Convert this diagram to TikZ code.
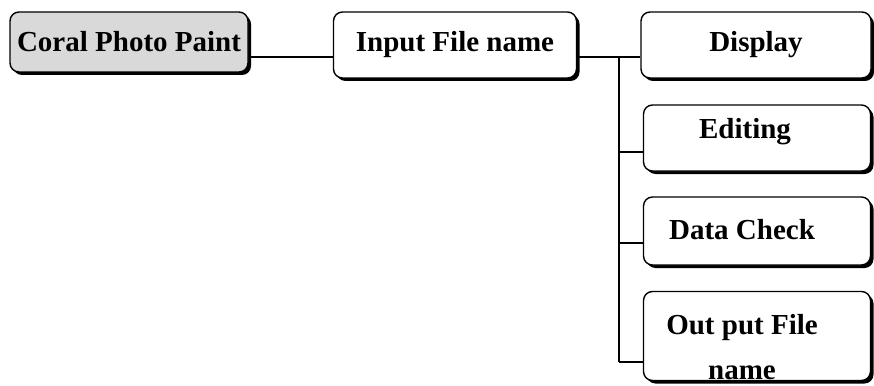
\documentclass[tikz,border=0pt]{standalone}
\usepackage{fontspec}
\setmainfont{Liberation Serif}
\usetikzlibrary{shadows,patterns}
\tikzset{
  box/.style={draw, line width=1.4pt, rounded corners=9pt, fill=white, inner sep=0pt,
    drop shadow={shadow xshift=3pt, shadow yshift=-3pt, opacity=1, fill=black},
    font=\fontsize{29}{35}\selectfont\bfseries},
  lbl/.style={inner sep=0pt, font=\fontsize{29}{35}\selectfont\bfseries},
  conn/.style={line width=1.3pt},
  trunk/.style={line width=2pt}
}
\begin{document}
\begin{tikzpicture}[x=1pt,y=1pt]
\useasboundingbox (0,0) rectangle (874,-385);
\node[box, fill=gray!30, minimum width=238pt, minimum height=60pt] (coral) at (129,-42) {Coral Photo Paint};
\node[box, minimum width=243pt, minimum height=66pt] (input) at (455,-45) {Input File name};
\node[box, minimum width=230pt, minimum height=66pt] (disp) at (756,-45) {Display};
\node[box, minimum width=227pt, minimum height=66pt] (edit) at (757,-138) {};
\node[lbl] (edittxt) at (745,-132) {Editing};
\node[box, minimum width=227pt, minimum height=68pt] (data) at (757,-231) {};
\node[lbl] (datatxt) at (742,-230) {Data Check};
\node[box, minimum width=227pt, minimum height=89pt] (out) at (757,-336) {};
\node[lbl] (outtxt1) at (742,-328) {Out put File};
\node[lbl] (outtxt2) at (742,-373) {name};
\coordinate (tt) at (619,-57);
\coordinate (te) at (619,-152);
\coordinate (td) at (619,-243);
\coordinate (tb) at (619,-362);
\draw[conn] (coral.east |- tt) -- (input.west |- tt);
\draw[conn] (input.east |- tt) -- (disp.west |- tt);
\draw[trunk] (tt) -- (tb);
\draw[conn] (te) -- (edit.west |- te);
\draw[conn] (td) -- (data.west |- td);
\draw[conn] (tb) -- (out.west |- tb);
\end{tikzpicture}
\end{document}
